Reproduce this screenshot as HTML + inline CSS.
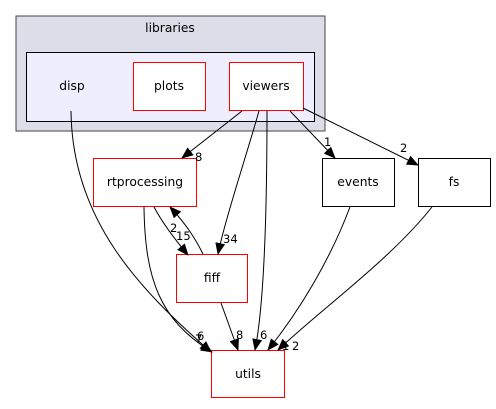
<!DOCTYPE html>
<html><head><style>body{margin:0;background:#fff}</style></head><body>
<svg width="496" height="404" viewBox="0 0 496 404" xmlns="http://www.w3.org/2000/svg" font-family="DejaVu Sans, Liberation Sans, sans-serif" font-size="12.3">
<defs><marker id="a" markerWidth="12" markerHeight="10" refX="11" refY="5" orient="auto" markerUnits="userSpaceOnUse"><path d="M0,0 L12,5 L0,10z" fill="#000"/></marker></defs>
<rect x="16" y="16" width="309" height="115" fill="#ddddea" stroke="#444" stroke-width="1"/>
<text x="170" y="32" text-anchor="middle">libraries</text>
<rect x="26.5" y="52.5" width="288" height="69" fill="#eeeefe" stroke="#000"/>
<text x="72" y="90" text-anchor="middle">disp</text>
<rect x="133.5" y="62.5" width="72" height="48" fill="#fff" stroke="red"/>
<text x="169" y="90" text-anchor="middle">plots</text>
<rect x="229.5" y="62.5" width="74" height="48" fill="#fff" stroke="red"/>
<text x="266" y="90" text-anchor="middle">viewers</text>
<rect x="93.5" y="158.5" width="103" height="48" fill="#fff" stroke="red"/>
<text x="145" y="186" text-anchor="middle">rtprocessing</text>
<rect x="322.5" y="158.5" width="72" height="48" fill="#fff" stroke="#000"/>
<text x="358" y="186" text-anchor="middle">events</text>
<rect x="418.5" y="158.5" width="72" height="48" fill="#fff" stroke="#000"/>
<text x="454" y="186" text-anchor="middle">fs</text>
<rect x="176.5" y="254.5" width="71" height="48" fill="#fff" stroke="red"/>
<text x="212" y="282" text-anchor="middle">fiff</text>
<rect x="211.5" y="350.5" width="73" height="47" fill="#fff" stroke="red"/>
<text x="248" y="378" text-anchor="middle">utils</text>
<g fill="none" stroke="#000" stroke-width="1">
<path d="M242,111 L182,158" marker-end="url(#a)"/>
<path d="M290,111 L335,158" marker-end="url(#a)"/>
<path d="M303,108 L418,165" marker-end="url(#a)"/>
<path d="M259,111 C245,160 225,220 218,254" marker-end="url(#a)"/>
<path d="M267,111 C267,200 265,300 255,350" marker-end="url(#a)"/>
<path d="M71,111 C72,220 140,290 211,352" marker-end="url(#a)"/>
<path d="M144,207 C145,280 160,320 212,352" marker-end="url(#a)"/>
<path d="M154,207 C162,222 172,236 188,255" marker-end="url(#a)"/>
<path d="M203,254 C196,240 187,225 170,207" marker-end="url(#a)"/>
<path d="M221,303 L238,350" marker-end="url(#a)"/>
<path d="M350,207 C330,260 300,310 268,350" marker-end="url(#a)"/>
<path d="M432,207 C390,260 320,310 278,350" marker-end="url(#a)"/>
</g>
<g font-size="11.5">
<text x="195" y="161">8</text>
<text x="324" y="146">1</text>
<text x="400" y="152">2</text>
<text x="223" y="243">34</text>
<text x="170" y="232">2</text>
<text x="176" y="240">15</text>
<text x="197" y="340">6</text>
<text x="195" y="343">7</text>
<text x="236" y="339">8</text>
<text x="260" y="339">6</text>
<text x="282" y="350">1</text>
<text x="292" y="350">2</text>
</g>
</svg>
</body></html>
